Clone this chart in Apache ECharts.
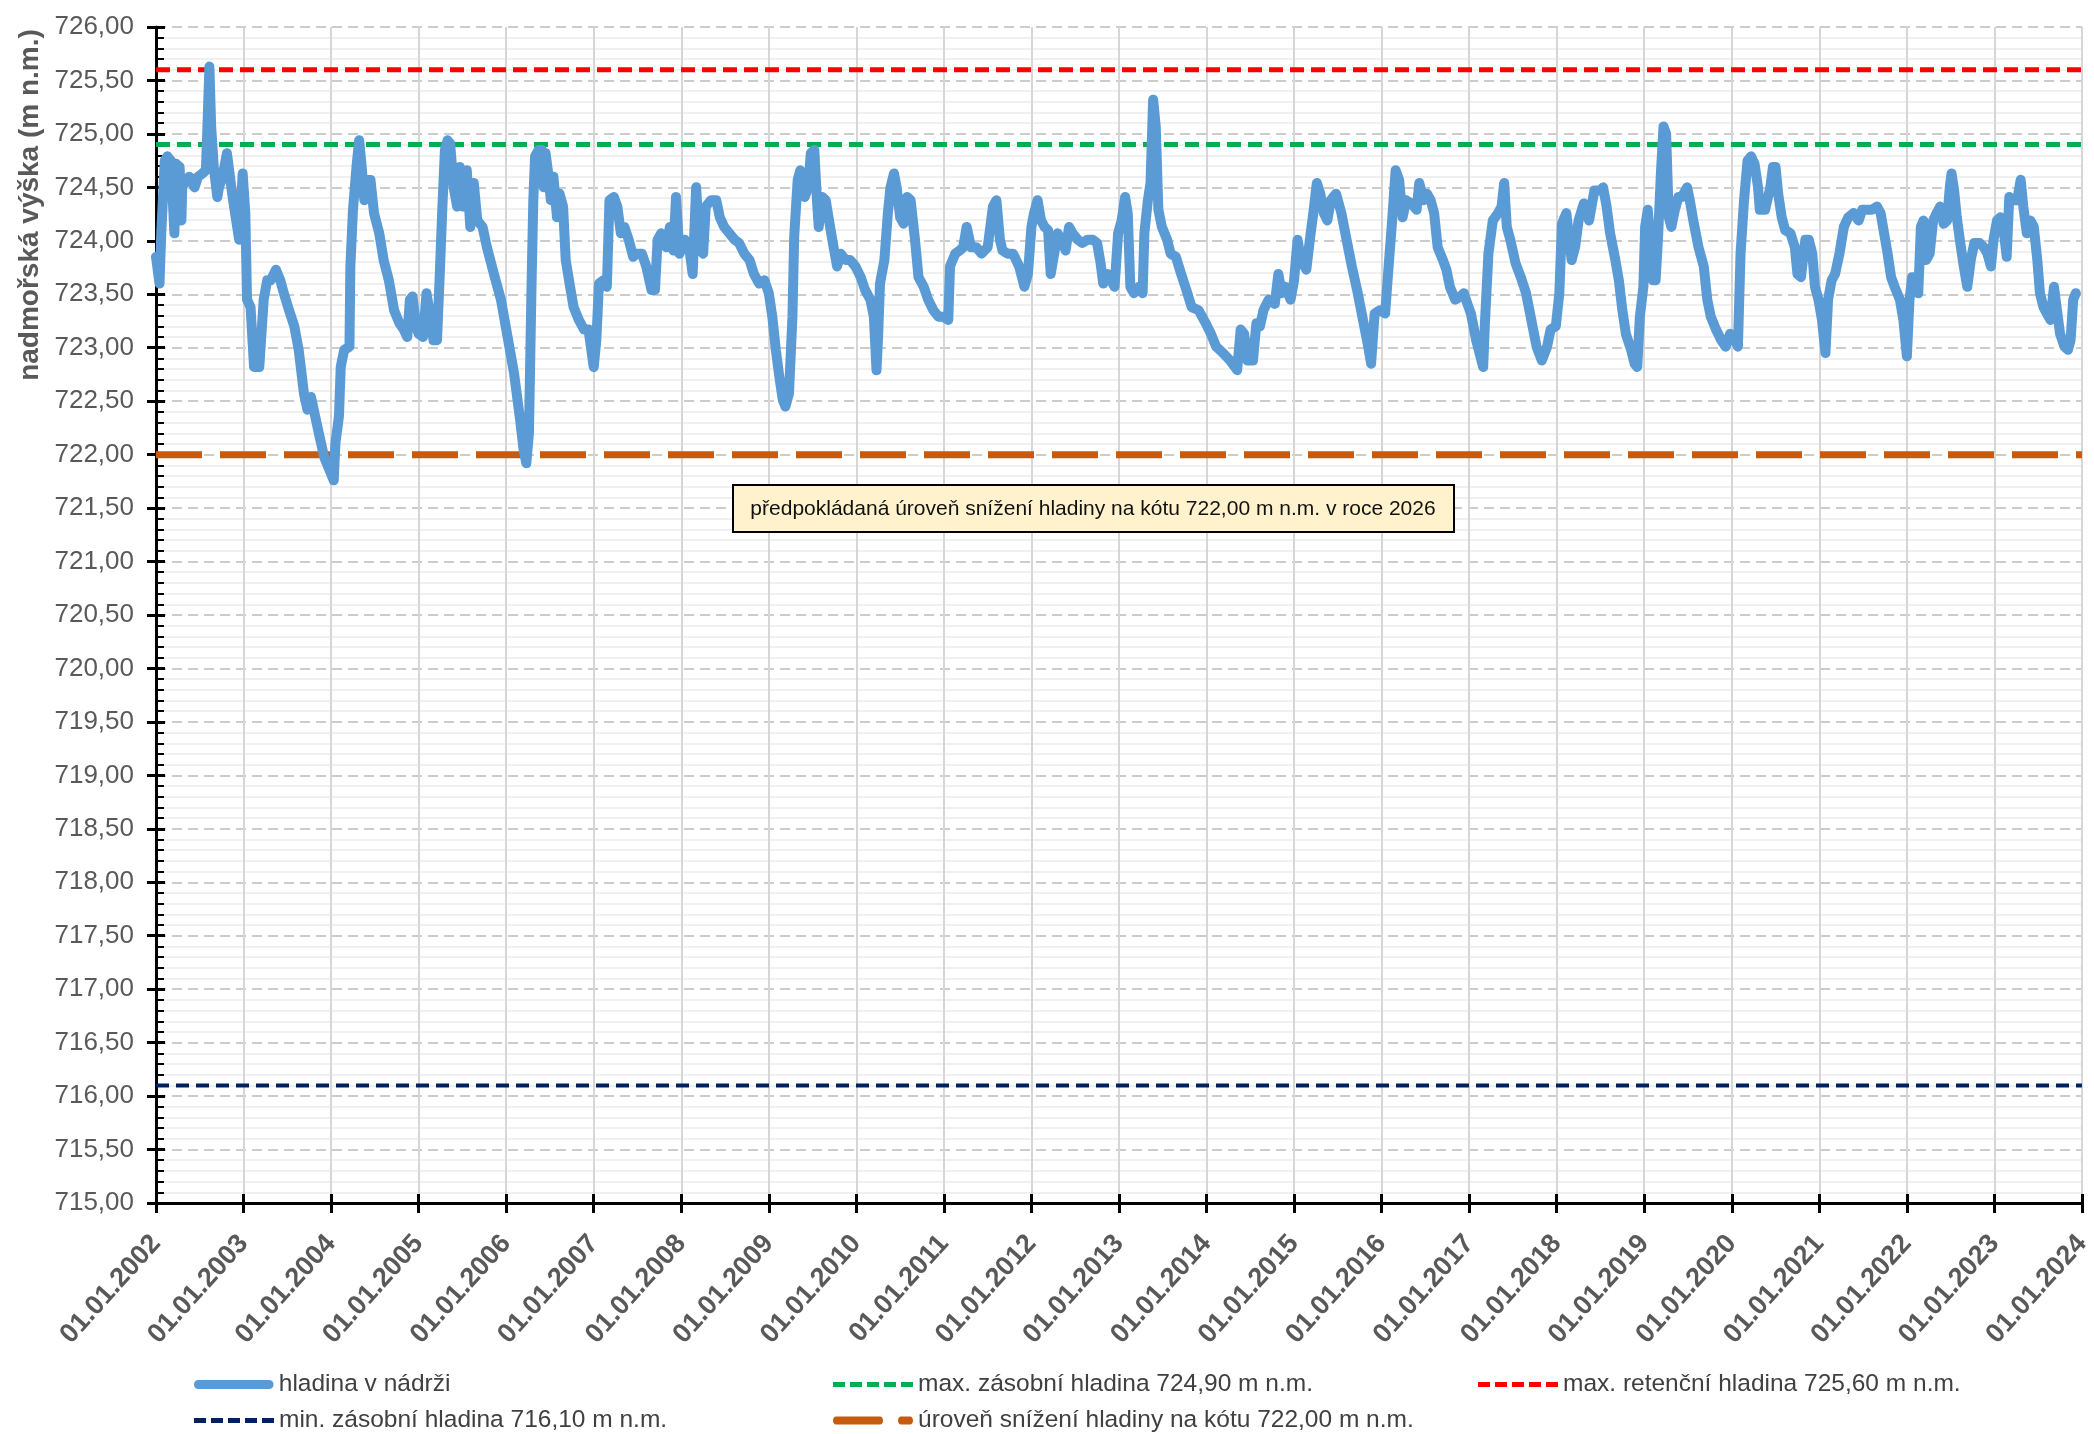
<!DOCTYPE html>
<html>
<head>
<meta charset="utf-8">
<script src="https://cdn.jsdelivr.net/npm/echarts@6/dist/echarts.min.js"></script>
<style>html,body{margin:0;padding:0;background:#fff;}#c{width:2094px;height:1434px;}</style>
</head>
<body>
<div id="c"></div>
<script>
// ---- data (decimal year, level in m n.m.) ----
const level2002to2007 = [[2002.00,723.85],[2002.04,723.60],[2002.06,724.07],[2002.10,724.75],[2002.13,724.79],[2002.17,724.75],[2002.21,724.07],[2002.23,724.72],[2002.27,724.69],[2002.29,724.19],[2002.30,724.50],[2002.34,724.57],[2002.38,724.60],[2002.44,724.50],[2002.48,724.60],[2002.53,724.63],[2002.57,724.66],[2002.59,725.13],[2002.61,725.63],[2002.63,725.07],[2002.66,724.69],[2002.70,724.41],[2002.72,724.50],[2002.76,724.60],[2002.81,724.82],[2002.84,724.63],[2002.87,724.44],[2002.91,724.22],[2002.95,724.01],[2002.99,724.63],[2003.02,724.26],[2003.04,723.45],[2003.08,723.38],[2003.12,722.82],[2003.18,722.82],[2003.20,723.07],[2003.23,723.45],[2003.27,723.63],[2003.31,723.63],[2003.37,723.73],[2003.42,723.63],[2003.46,723.51],[2003.52,723.35],[2003.58,723.20],[2003.63,722.98],[2003.69,722.57],[2003.73,722.42],[2003.77,722.54],[2003.81,722.39],[2003.86,722.20],[2003.92,721.98],[2003.98,721.86],[2004.03,721.76],[2004.05,722.11],[2004.09,722.36],[2004.11,722.82],[2004.15,722.98],[2004.21,723.01],[2004.22,723.76],[2004.25,724.29],[2004.29,724.69],[2004.32,724.94],[2004.35,724.69],[2004.38,724.38],[2004.41,724.57],[2004.45,724.57],[2004.49,724.26],[2004.55,724.07],[2004.60,723.82],[2004.66,723.63],[2004.72,723.35],[2004.78,723.23],[2004.83,723.17],[2004.87,723.10],[2004.90,723.45],[2004.93,723.48],[2004.97,723.20],[2005.00,723.13],[2005.05,723.10],[2005.09,723.51],[2005.14,723.26],[2005.17,723.07],[2005.21,723.07],[2005.24,723.66],[2005.27,724.29],[2005.30,724.85],[2005.33,724.94],[2005.36,724.91],[2005.40,724.50],[2005.44,724.32],[2005.47,724.69],[2005.51,724.32],[2005.55,724.66],[2005.59,724.13],[2005.63,724.54],[2005.67,724.19],[2005.73,724.13],[2005.78,723.94],[2005.86,723.69],[2005.94,723.45],[2006.01,723.13],[2006.09,722.76],[2006.16,722.32],[2006.20,722.04],[2006.23,721.92],[2006.26,722.20],[2006.29,723.60],[2006.31,724.38],[2006.33,724.79],[2006.37,724.85],[2006.41,724.85],[2006.43,724.50],[2006.45,724.82],[2006.48,724.63],[2006.51,724.38],[2006.54,724.60],[2006.58,724.22],[2006.61,724.44],[2006.65,724.32],[2006.68,723.82],[2006.73,723.57],[2006.77,723.38],[2006.83,723.26],[2006.89,723.17],[2006.94,723.17],[2007.00,722.82],[2007.03,723.07],[2007.06,723.60],[2007.11,723.63],[2007.15,723.57],[2007.18,724.38],[2007.23,724.41],[2007.27,724.32],[2007.31,724.07],[2007.35,724.13],[2007.40,724.01],[2007.45,723.85]];

const level2007to2012 = [[2007.49,723.88],[2007.55,723.88],[2007.60,723.76],[2007.66,723.54],[2007.70,723.54],[2007.73,724.01],[2007.77,724.07],[2007.83,723.94],[2007.87,724.13],[2007.91,723.91],[2007.94,724.41],[2007.98,723.88],[2008.04,724.01],[2008.09,723.94],[2008.13,723.69],[2008.17,724.50],[2008.21,723.94],[2008.25,723.88],[2008.28,724.32],[2008.34,724.38],[2008.40,724.38],[2008.44,724.22],[2008.49,724.13],[2008.55,724.07],[2008.61,724.01],[2008.66,723.98],[2008.72,723.88],[2008.78,723.82],[2008.83,723.69],[2008.89,723.60],[2008.95,723.63],[2009.00,723.51],[2009.04,723.29],[2009.08,722.98],[2009.12,722.73],[2009.16,722.51],[2009.19,722.45],[2009.23,722.57],[2009.27,723.29],[2009.29,724.04],[2009.33,724.57],[2009.36,724.66],[2009.41,724.41],[2009.45,724.50],[2009.48,724.82],[2009.52,724.85],[2009.55,724.38],[2009.57,724.13],[2009.61,724.41],[2009.65,724.38],[2009.70,724.13],[2009.74,723.94],[2009.78,723.76],[2009.82,723.88],[2009.88,723.82],[2009.93,723.82],[2009.99,723.76],[2010.05,723.66],[2010.10,723.54],[2010.16,723.45],[2010.20,723.29],[2010.23,722.79],[2010.25,723.13],[2010.27,723.60],[2010.32,723.82],[2010.36,724.26],[2010.39,724.50],[2010.43,724.63],[2010.46,724.50],[2010.50,724.22],[2010.54,724.16],[2010.58,724.41],[2010.62,724.38],[2010.67,724.01],[2010.71,723.66],[2010.77,723.57],[2010.82,723.45],[2010.88,723.35],[2010.94,723.29],[2010.99,723.29],[2011.05,723.26],[2011.07,723.76],[2011.13,723.88],[2011.18,723.91],[2011.22,723.94],[2011.26,724.13],[2011.31,723.94],[2011.37,723.94],[2011.43,723.88],[2011.50,723.94],[2011.56,724.32],[2011.60,724.38],[2011.64,724.01],[2011.67,723.91],[2011.73,723.88],[2011.79,723.88],[2011.86,723.76],[2011.92,723.57],[2011.96,723.69],[2012.00,724.13],[2012.03,724.26],[2012.07,724.38],[2012.11,724.19],[2012.15,724.13],[2012.19,724.10],[2012.22,723.69],[2012.26,723.88],[2012.30,724.07],[2012.36,723.98],[2012.39,723.91],[2012.43,724.13],[2012.47,724.07],[2012.53,724.01],[2012.58,723.98],[2012.64,724.01],[2012.70,724.01]];

const level2012to2018 = [[2012.75,723.98],[2012.79,723.79],[2012.82,723.60],[2012.87,723.69],[2012.91,723.63],[2012.95,723.57],[2012.99,724.07],[2013.03,724.19],[2013.07,724.41],[2013.10,724.26],[2013.13,723.57],[2013.17,723.51],[2013.23,723.57],[2013.27,723.51],[2013.29,724.07],[2013.33,724.38],[2013.36,724.54],[2013.39,725.32],[2013.42,725.07],[2013.45,724.29],[2013.49,724.13],[2013.55,724.01],[2013.59,723.88],[2013.65,723.85],[2013.71,723.69],[2013.77,723.54],[2013.83,723.38],[2013.91,723.35],[2013.99,723.23],[2014.05,723.13],[2014.11,723.01],[2014.19,722.95],[2014.27,722.88],[2014.35,722.79],[2014.39,723.17],[2014.43,723.13],[2014.47,722.88],[2014.53,722.88],[2014.57,723.23],[2014.61,723.20],[2014.65,723.35],[2014.71,723.45],[2014.78,723.41],[2014.82,723.69],[2014.86,723.51],[2014.90,723.57],[2014.96,723.45],[2015.00,723.63],[2015.04,724.01],[2015.08,723.82],[2015.14,723.73],[2015.18,724.01],[2015.22,724.26],[2015.26,724.54],[2015.30,724.44],[2015.34,724.26],[2015.38,724.19],[2015.42,724.38],[2015.48,724.44],[2015.54,724.26],[2015.60,724.01],[2015.66,723.76],[2015.72,723.54],[2015.78,723.29],[2015.84,723.04],[2015.88,722.85],[2015.92,723.32],[2015.98,723.35],[2016.04,723.32],[2016.08,723.76],[2016.12,724.19],[2016.16,724.66],[2016.20,724.57],[2016.24,724.22],[2016.28,724.38],[2016.34,724.35],[2016.40,724.29],[2016.43,724.54],[2016.48,724.38],[2016.52,724.44],[2016.56,724.38],[2016.60,724.26],[2016.64,723.94],[2016.70,723.82],[2016.74,723.73],[2016.78,723.57],[2016.84,723.45],[2016.90,723.48],[2016.94,723.51],[2016.98,723.41],[2017.02,723.32],[2017.08,723.07],[2017.16,722.82],[2017.18,723.23],[2017.22,723.88],[2017.27,724.19],[2017.33,724.26],[2017.37,724.32],[2017.40,724.54],[2017.43,724.13],[2017.47,724.01],[2017.53,723.79],[2017.59,723.66],[2017.65,723.51],[2017.71,723.26],[2017.77,723.01],[2017.83,722.88],[2017.89,723.01],[2017.93,723.17],[2017.99,723.20],[2018.03,723.51],[2018.06,724.16],[2018.11,724.26],[2018.17,723.82],[2018.21,723.94],[2018.25,724.19],[2018.31,724.35],[2018.37,724.19],[2018.43,724.47]];

const level2018to2024 = [[2018.50,724.47],[2018.53,724.50],[2018.57,724.32],[2018.61,724.07],[2018.67,723.82],[2018.71,723.63],[2018.75,723.35],[2018.79,723.13],[2018.85,722.98],[2018.89,722.85],[2018.92,722.82],[2018.95,723.29],[2018.99,723.57],[2019.01,724.13],[2019.04,724.29],[2019.07,724.01],[2019.10,723.63],[2019.13,723.63],[2019.16,724.07],[2019.19,724.63],[2019.22,725.07],[2019.25,725.00],[2019.28,724.22],[2019.31,724.13],[2019.35,724.29],[2019.39,724.41],[2019.43,724.41],[2019.49,724.50],[2019.52,724.38],[2019.56,724.19],[2019.62,723.94],[2019.68,723.76],[2019.72,723.45],[2019.76,723.29],[2019.82,723.17],[2019.88,723.07],[2019.93,723.01],[2019.98,723.13],[2020.02,723.10],[2020.07,723.01],[2020.10,723.88],[2020.14,724.38],[2020.18,724.75],[2020.22,724.79],[2020.26,724.72],[2020.30,724.50],[2020.32,724.29],[2020.38,724.29],[2020.44,724.50],[2020.47,724.69],[2020.50,724.69],[2020.53,724.44],[2020.57,724.22],[2020.61,724.10],[2020.67,724.07],[2020.72,723.94],[2020.75,723.69],[2020.79,723.66],[2020.84,724.01],[2020.88,724.01],[2020.92,723.88],[2020.95,723.57],[2020.99,723.45],[2021.03,723.26],[2021.07,722.95],[2021.10,723.45],[2021.14,723.63],[2021.18,723.69],[2021.23,723.88],[2021.28,724.13],[2021.33,724.22],[2021.39,724.26],[2021.45,724.19],[2021.49,724.29],[2021.54,724.29],[2021.60,724.29],[2021.66,724.32],[2021.70,724.26],[2021.74,724.07],[2021.78,723.88],[2021.82,723.66],[2021.86,723.57],[2021.92,723.45],[2021.96,723.26],[2022.00,722.92],[2022.03,723.45],[2022.06,723.66],[2022.10,723.66],[2022.13,723.51],[2022.16,724.13],[2022.19,724.19],[2022.22,723.82],[2022.26,723.88],[2022.30,724.19],[2022.34,724.26],[2022.38,724.32],[2022.42,724.16],[2022.46,724.19],[2022.49,724.50],[2022.51,724.63],[2022.54,724.47],[2022.57,724.22],[2022.61,723.98],[2022.65,723.76],[2022.69,723.57],[2022.73,723.82],[2022.77,723.98],[2022.83,723.98],[2022.88,723.94],[2022.92,723.88],[2022.96,723.76],[2022.99,724.01],[2023.03,724.19],[2023.07,724.22],[2023.11,724.07],[2023.14,723.85],[2023.17,724.41],[2023.21,724.38],[2023.26,724.38],[2023.30,724.57],[2023.33,724.32],[2023.37,724.07],[2023.41,724.19],[2023.45,724.13],[2023.49,723.82],[2023.52,723.51],[2023.56,723.38],[2023.60,723.32],[2023.64,723.26],[2023.68,723.57],[2023.71,723.38],[2023.75,723.13],[2023.80,723.01],[2023.84,722.98],[2023.87,723.07],[2023.90,723.45],[2023.93,723.51]];

const xRange = [2002, 2024];
const yRange = [715, 726];
const retentionMax = 725.60;
const storageMax = 724.90;
const storageMin = 716.10;
const drawdownLevel = 722.00;

const names = {
  level: 'hladina v nádrži',
  storageMax: 'max. zásobní hladina 724,90 m n.m.',
  retentionMax: 'max. retenční hladina 725,60 m n.m.',
  storageMin: 'min. zásobní hladina 716,10 m n.m.',
  drawdown: 'úroveň snížení hladiny na kótu 722,00 m n.m.'
};
const yAxisTitle = 'nadmořská výška (m n.m.)';
const noteText = 'předpokládaná úroveň snížení hladiny na kótu 722,00 m n.m. v roce 2026';

const levelData = [].concat(level2002to2007, level2007to2012, level2012to2018, level2018to2024);
const flat = v => [[xRange[0], v], [xRange[1], v]];

const chart = echarts.init(document.getElementById('c'), null, {renderer: 'canvas'});
const FONT = 'Liberation Sans';

// legend icons (pure shapes, drawn in the series colour)
const ICON_SOLID = 'path://M4,0H76C81,0 81,9 76,9H4C-1,9 -1,0 4,0Z';
const ICON_DASH = 'path://M0,0H12V5H0Z M17,0H29V5H17Z M34,0H46V5H34Z M51,0H63V5H51Z M68,0H80V5H68Z';
const ICON_LONGDASH = 'path://M3,0H47C51,0 51,8 47,8H3C-1,8 -1,0 3,0Z M68,0H77C81,0 81,8 77,8H68C64,8 64,0 68,0Z';

const legendItem = (name, icon, h, left, top) => ({
  data: [name], icon: icon, left: left, top: top,
  orient: 'horizontal', padding: 0, itemWidth: 80, itemHeight: h, itemGap: 5,
  selectedMode: false,
  textStyle: {fontSize: 24.5, color: '#404040', fontFamily: FONT}
});
const refLine = (name, v, color, width, dash, z) => ({
  name: name, type: 'line', data: flat(v), symbol: 'none', showSymbol: false,
  lineStyle: {color: color, width: width, type: dash}, itemStyle: {color: color},
  z: z, silent: true, animation: false
});

chart.setOption({
  animation: false,
  backgroundColor: '#ffffff',
  textStyle: {fontFamily: FONT},
  grid: {left: 156, right: 11, top: 27, bottom: 231, containLabel: false},
  xAxis: [{
    type: 'value', min: xRange[0], max: xRange[1], interval: 1, position: 'bottom',
    axisLine: {show: true, onZero: false, lineStyle: {color: '#000', width: 3}},
    axisTick: {show: true, length: 10, lineStyle: {color: '#000', width: 3}},
    axisLabel: {formatter: v => '01.01.' + v, rotate: 48, margin: 36, fontSize: 27,
      fontWeight: 'bold', color: '#595959', fontFamily: FONT},
    splitLine: {show: true, lineStyle: {color: '#d6d6d6', width: 2}}
  }, {
    type: 'value', min: xRange[0], max: xRange[1], interval: 1, position: 'bottom',
    axisLine: {show: false, onZero: false},
    axisTick: {show: true, inside: true, length: 9, lineStyle: {color: '#000', width: 3}},
    axisLabel: {show: false}, splitLine: {show: false}
  }],
  yAxis: [{
    type: 'value', min: yRange[0], max: yRange[1], interval: 0.5, position: 'left',
    axisLine: {show: true, onZero: false, lineStyle: {color: '#000', width: 3}},
    axisTick: {show: true, inside: true, length: 9, lineStyle: {color: '#000', width: 3}},
    minorTick: {show: true, splitNumber: 5, length: 8, lineStyle: {color: '#000', width: 2}},
    axisLabel: {formatter: v => v.toFixed(2).replace('.', ','), margin: 22, fontSize: 26,
      color: '#595959', fontFamily: FONT},
    splitLine: {show: true, lineStyle: {color: '#cccccc', width: 2, type: [10, 6]}},
    minorSplitLine: {show: true, lineStyle: {color: '#ececec', width: 1.5}}
  }, {
    type: 'value', min: yRange[0], max: yRange[1], interval: 0.5, position: 'left',
    axisLine: {show: false, onZero: false},
    axisTick: {show: true, inside: false, length: 9, lineStyle: {color: '#000', width: 3}},
    axisLabel: {show: false}, splitLine: {show: false}
  }],
  legend: [
    legendItem(names.level, ICON_SOLID, 9, 194, 1372),
    legendItem(names.storageMax, ICON_DASH, 5, 833, 1372),
    legendItem(names.retentionMax, ICON_DASH, 5, 1478, 1372),
    legendItem(names.storageMin, ICON_DASH, 5, 194, 1408),
    legendItem(names.drawdown, ICON_LONGDASH, 8, 833, 1408)
  ],
  series: [
    refLine(names.storageMax, storageMax, '#00b050', 5, [14, 7], 3),
    refLine(names.retentionMax, retentionMax, '#ff0000', 5, [14, 7], 3),
    refLine(names.storageMin, storageMin, '#002060', 4, [13, 7], 3),
    refLine(names.drawdown, drawdownLevel, '#c55a11', 7, [46, 18], 3),
    {
      name: names.level, type: 'line', data: levelData, symbol: 'none', showSymbol: false,
      lineStyle: {color: '#5b9bd5', width: 10, join: 'round', cap: 'round'},
      itemStyle: {color: '#5b9bd5'}, z: 5, silent: true
    }
  ],
  graphic: [
    {type: 'rect', z: 100, shape: {x: 733, y: 485, width: 721, height: 47},
      style: {fill: '#fff2cc', stroke: '#000000', lineWidth: 2}},
    {type: 'text', z: 101, x: 1093, y: 509,
      style: {text: noteText, fontSize: 21, fill: '#111111', align: 'center', verticalAlign: 'middle', fontFamily: FONT}},
    {type: 'text', z: 101, x: 30, y: 205, rotation: Math.PI / 2,
      style: {text: yAxisTitle, fontSize: 28, fontWeight: 'bold', fill: '#595959', align: 'center', verticalAlign: 'middle', fontFamily: FONT}}
  ]
});
</script>
</body>
</html>
